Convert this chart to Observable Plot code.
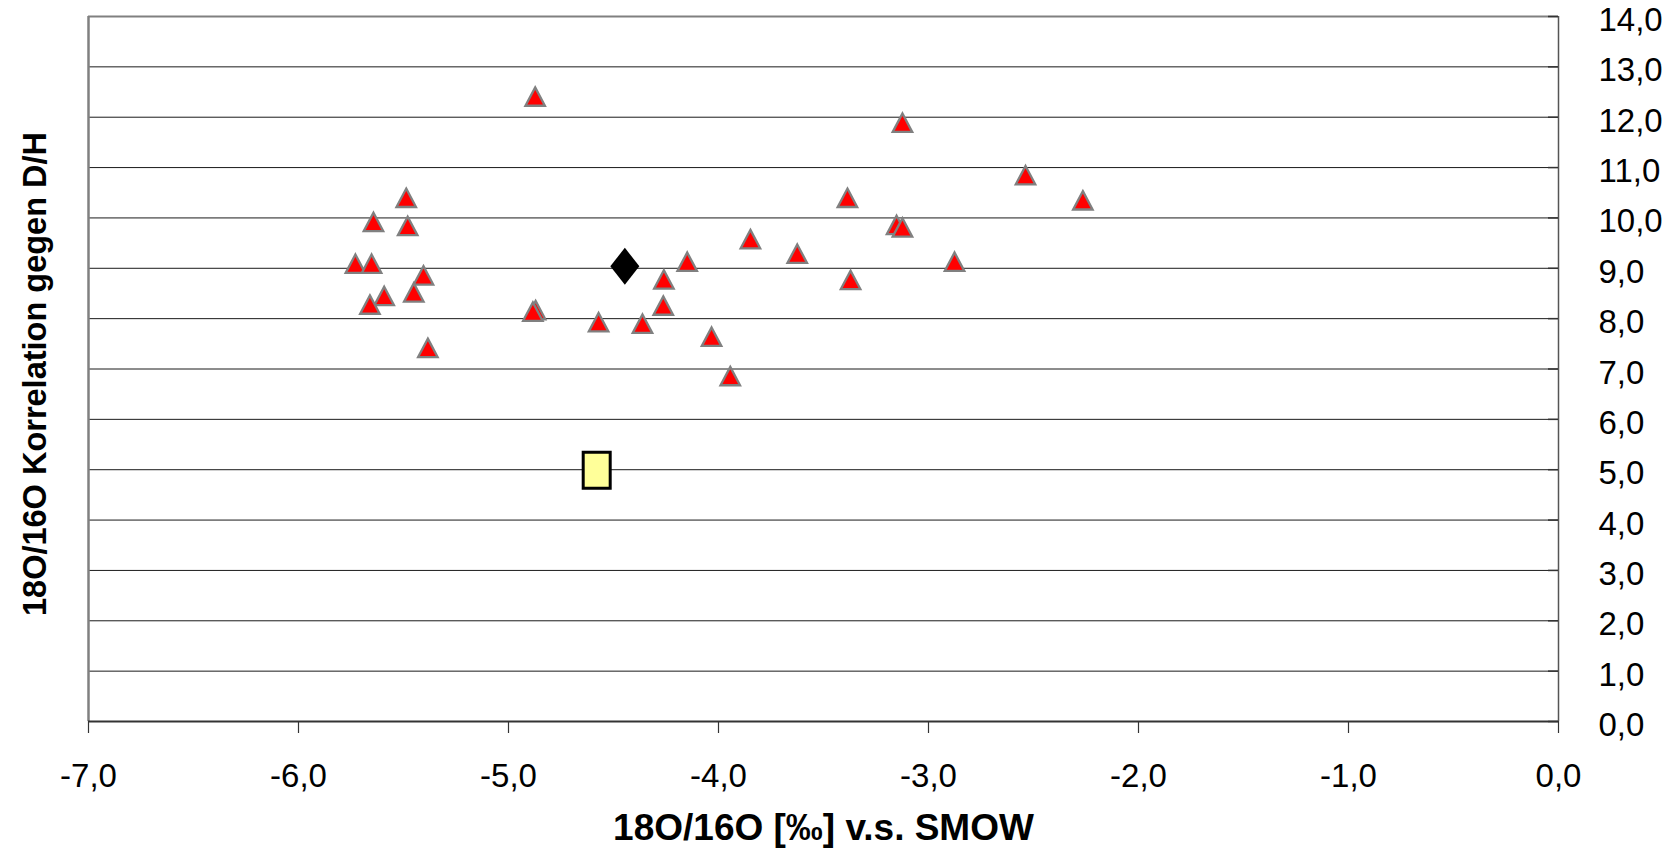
<!DOCTYPE html>
<html>
<head>
<meta charset="utf-8">
<script src="https://cdn.jsdelivr.net/npm/d3@7"></script>
<script src="https://cdn.jsdelivr.net/npm/@observablehq/plot@0.6"></script>
<style>
  html, body { margin: 0; padding: 0; background: #fff; }
</style>
</head>
<body>
<div id="chart"></div>
<script>
// Samples (red triangles): δ18O vs. correlation value
const sampleX = [-5.487, -5.643, -5.480, -5.729, -5.652, -5.405, -5.592, -5.451, -5.660, -5.384,
                 -4.871, -4.884, -4.571, -4.362, -4.260, -4.263, -4.149, -4.873, -4.033, -3.944,
                 -3.848, -3.625, -3.124, -2.538, -3.386, -2.265, -3.152, -3.124, -2.876, -3.371];
const sampleY = [10.40, 9.92, 9.84, 9.09, 9.09, 8.86, 8.45, 8.52, 8.28, 7.42,
                 8.17, 8.14, 7.93, 7.90, 8.78, 8.26, 9.13, 12.41, 7.64, 6.86,
                 9.58, 9.29, 11.89, 10.85, 10.40, 10.35, 9.86, 9.81, 9.13, 8.77];
// Mean value (black diamond)
const meanX = [-4.446];
const meanY = [9.04];
// Reference (yellow box)
const refX = [-4.58];
const refY = [4.99];

const xTicks = [-7, -6, -5, -4, -3, -2, -1, 0];
const yTicks = [0, 1, 2, 3, 4, 5, 6, 7, 8, 9, 10, 11, 12, 13, 14];
const xTitle = "18O/16O [‰] v.s. SMOW";
const yTitle = "18O/16O Korrelation gegen D/H";

const fmt = d => d.toFixed(1).replace(".", ",");
const zip = (xs, ys) => xs.map((x, i) => ({x, y: ys[i]}));

const triangle = {
  draw(ctx, size) {
    const r = Math.sqrt(size / Math.PI);
    ctx.moveTo(0, -r);
    ctx.lineTo(r * 1.06, r);
    ctx.lineTo(-r * 1.06, r);
    ctx.closePath();
  }
};
const diamond = {
  draw(ctx, size) {
    const r = Math.sqrt(size / Math.PI);
    const w = r * 0.784;
    ctx.moveTo(0, -r);
    ctx.lineTo(w, 0);
    ctx.lineTo(0, r);
    ctx.lineTo(-w, 0);
    ctx.closePath();
  }
};
const box = {
  draw(ctx, size) {
    const r = Math.sqrt(size / Math.PI);
    const w = r * 0.75;
    ctx.moveTo(-w, -r);
    ctx.lineTo(w, -r);
    ctx.lineTo(w, r);
    ctx.lineTo(-w, r);
    ctx.closePath();
  }
};

const chart = Plot.plot({
  width: 1665,
  height: 848,
  marginLeft: 88,
  marginRight: 107,
  marginTop: 16,
  marginBottom: 127,
  style: {fontFamily: "Arial, 'Liberation Sans', sans-serif", background: "#fff", color: "#000"},
  x: {domain: [-7, 0]},
  y: {domain: [0, 14]},
  marks: [
    Plot.ruleY(yTicks.filter(d => d > 0 && d < 14), {stroke: "#1a1a1a", strokeWidth: 1}),
    Plot.ruleY([14], {stroke: "#808080", strokeWidth: 2}),
    Plot.ruleX([-7], {stroke: "#808080", strokeWidth: 2.5}),
    Plot.ruleX([0], {stroke: "#555", strokeWidth: 1.5}),
    Plot.tickY(yTicks, {insetLeft: 1460, stroke: "#333", strokeWidth: 1.5}),
    Plot.ruleY([0], {stroke: "#333", strokeWidth: 2}),
    Plot.axisX({ticks: xTicks, tickFormat: fmt, tickSize: 12, tickPadding: 30, fontSize: 33,
                stroke: "#333", strokeWidth: 1.2, label: null}),
    Plot.axisY({anchor: "right", ticks: yTicks, tickFormat: fmt, tickSize: 0, tickPadding: 40,
                fontSize: 33, textAnchor: "start", dy: 4, label: null}),
    Plot.text([xTitle], {frameAnchor: "bottom", dy: 107, lineAnchor: "middle", textAnchor: "middle",
                         fontWeight: "bold", fontSize: 37, fill: "#000"}),
    Plot.text([yTitle], {frameAnchor: "left", dx: -53, dy: 5, rotate: -90, lineAnchor: "middle",
                         textAnchor: "middle", fontWeight: "bold", fontSize: 32.5, fill: "#000"}),
    Plot.dot(zip(sampleX, sampleY), {x: "x", y: "y", symbol: triangle, r: 9.2,
                                      fill: "#ff0000", stroke: "#808080", strokeWidth: 2.3}),
    Plot.dot(zip(meanX, meanY), {x: "x", y: "y", symbol: diamond, r: 18.5, fill: "#000", stroke: "none"}),
    Plot.dot(zip(refX, refY), {x: "x", y: "y", symbol: box, r: 18, fill: "#ffff99", stroke: "#000", strokeWidth: 3})
  ]
});
document.getElementById("chart").appendChild(chart);
</script>
</body>
</html>
